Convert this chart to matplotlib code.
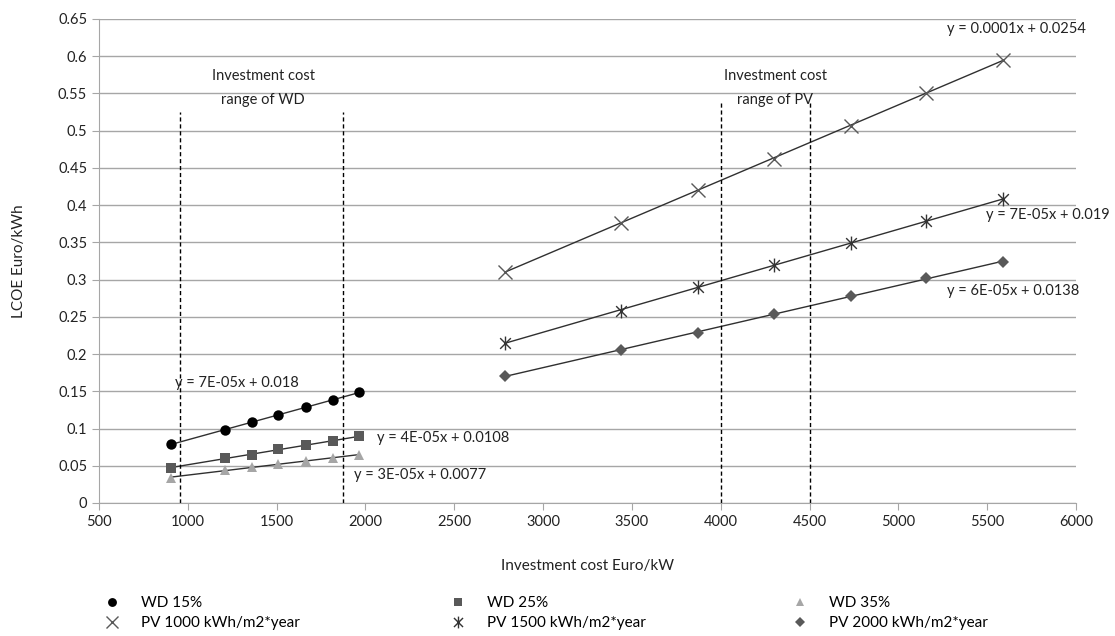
import numpy as np
import matplotlib.pyplot as plt
from matplotlib.path import Path

plt.rcParams['font.family'] = ['Lato', 'DejaVu Sans']

# Investment cost (Euro/kW) and LCOE (Euro/kWh)
wd_cost = [905, 1210, 1360, 1510, 1665, 1815, 1965]
wd15 = [0.0788, 0.098, 0.109, 0.1186, 0.1285, 0.138, 0.1487]
wd25 = [0.0474, 0.060, 0.065, 0.0725, 0.0775, 0.0833, 0.0896]
wd35 = [0.034, 0.0439, 0.0483, 0.0524, 0.0564, 0.0608, 0.0645]

pv_cost = [2788, 3437, 3870, 4298, 4731, 5156, 5590]
pv1000 = [0.3106, 0.3765, 0.4204, 0.462, 0.5067, 0.551, 0.595]
pv1500 = [0.2153, 0.2583, 0.2897, 0.3196, 0.3487, 0.379, 0.408]
pv2000 = [0.1706, 0.2056, 0.2287, 0.2538, 0.278, 0.3018, 0.324]

# Excel-style star: an x with a vertical bar through it
star = Path([(-1, -1), (1, 1), (-1, 1), (1, -1), (0, -1.3), (0, 1.3)],
            [Path.MOVETO, Path.LINETO, Path.MOVETO, Path.LINETO, Path.MOVETO, Path.LINETO])

series = [
    {"x": wd_cost, "y": wd15, "label": "WD 15%", "marker": "o", "color": "black", "ms": 7.5, "mew": 0},
    {"x": wd_cost, "y": wd25, "label": "WD 25%", "marker": "s", "color": "#595959", "ms": 6.5, "mew": 0},
    {"x": wd_cost, "y": wd35, "label": "WD 35%", "marker": "^", "color": "#a6a6a6", "ms": 6.5, "mew": 0},
    {"x": pv_cost, "y": pv1000, "label": "PV 1000 kWh/m2*year", "marker": "x", "color": "#595959", "ms": 10, "mew": 1},
    {"x": pv_cost, "y": pv1500, "label": "PV 1500 kWh/m2*year", "marker": star, "color": "#333333", "ms": 10, "mew": 1},
    {"x": pv_cost, "y": pv2000, "label": "PV 2000 kWh/m2*year", "marker": "D", "color": "#595959", "ms": 6.5, "mew": 0},
]

# equation text and where it sits
equations = [
    ("y = 7E-05x + 0.018", 930, 0.161),
    ("y = 4E-05x + 0.0108", 2066, 0.0877),
    ("y = 3E-05x + 0.0077", 1937, 0.0376),
    ("y = 0.0001x + 0.0254", 5275, 0.636),
    ("y = 7E-05x + 0.019", 5492, 0.387),
    ("y = 6E-05x + 0.0138", 5275, 0.285),
]

fig = plt.figure(figsize=(11.15, 6.36), dpi=100)
ax = fig.add_axes([99 / 1115, 1 - 503 / 636, (1076 - 99) / 1115, (503 - 19) / 636])

handles = []
for s in series:
    # linear trendline through each series
    k, b = np.polyfit(s["x"], s["y"], 1)
    xs = np.array([min(s["x"]), max(s["x"])])
    ax.plot(xs, k * xs + b, color="#303030", lw=1, zorder=2)
    h, = ax.plot(s["x"], s["y"], linestyle="none", marker=s["marker"], color=s["color"],
                 markersize=s["ms"], markeredgewidth=s["mew"], label=s["label"], zorder=3)
    handles.append(h)

for txt, x, y in equations:
    ax.text(x, y, txt, fontsize=10.5, color="#222222", ha="left", va="center", zorder=4)

# investment cost ranges
for x in [955, 1873]:
    ax.plot([x, x], [0, 0.5255], color="black", lw=1, ls=(0, (3, 2)), zorder=2)
for x in [4000, 4500]:
    ax.plot([x, x], [0, 0.539], color="black", lw=1, ls=(0, (3, 2)), zorder=2)
ax.text(1424, 0.574, "Investment cost", fontsize=10.5, ha="center", va="center", color="#222222")
ax.text(1424, 0.541, "range of WD", fontsize=10.5, ha="center", va="center", color="#222222")
ax.text(4308, 0.574, "Investment cost", fontsize=10.5, ha="center", va="center", color="#222222")
ax.text(4308, 0.541, "range of PV", fontsize=10.5, ha="center", va="center", color="#222222")

ax.set_xlim(500, 6000)
ax.set_ylim(0, 0.65)
ax.set_xticks(np.arange(500, 6001, 500))
ax.set_yticks(np.arange(0, 0.651, 0.05))
ax.set_yticklabels(["0", "0.05", "0.1", "0.15", "0.2", "0.25", "0.3", "0.35", "0.4",
                    "0.45", "0.5", "0.55", "0.6", "0.65"])
ax.grid(axis="y", color="#a6a6a6", lw=1)
ax.set_axisbelow(True)
for side in ["top", "right"]:
    ax.spines[side].set_visible(False)
for side in ["left", "bottom"]:
    ax.spines[side].set_color("#a6a6a6")
ax.tick_params(axis="both", colors="#a6a6a6", labelcolor="#222222", labelsize=10.5,
               length=5, direction="out")
ax.set_xlabel("Investment cost Euro/kW", fontsize=11, color="#222222", labelpad=22)
ax.set_ylabel("LCOE Euro/kWh", fontsize=11, color="#222222", labelpad=23)

# legend: three columns, two rows
col_x = [104, 450, 792]
for i, cx in enumerate(col_x):
    fig.legend([handles[i], handles[i + 3]], [series[i]["label"], series[i + 3]["label"]],
               loc="upper left", bbox_to_anchor=(cx / 1115, 1 - 596 / 636), frameon=False,
               fontsize=11, handlelength=1.0, handletextpad=1.4, labelspacing=0.4,
               markerscale=0.85, borderaxespad=0, borderpad=0)

fig.savefig("out.png", dpi=100)
